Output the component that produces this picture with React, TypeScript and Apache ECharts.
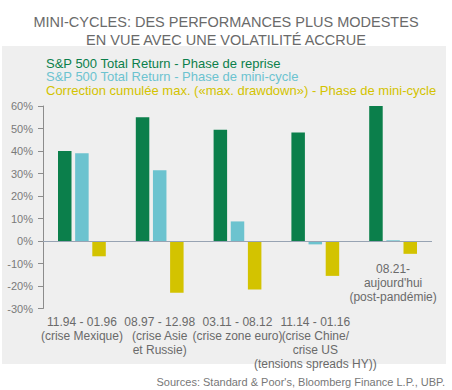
import React, { useEffect, useRef } from "react";
import * as echarts from "echarts";

const categories = [
  "11.94 - 01.96\n(crise Mexique)",
  "08.97 - 12.98\n(crise Asie\net Russie)",
  "03.11 - 08.12\n(crise zone euro)",
  "11.14 - 01.16\n(crise Chine/\ncrise US\n(tensions spreads HY))",
  "08.21-\naujourd'hui\n(post-pandémie)",
];
const seriesNames = [
  "S&P 500 Total Return - Phase de reprise",
  "S&P 500 Total Return - Phase de mini-cycle",
  "Correction cumulée max. (\u00abmax. drawdown\u00bb) - Phase de mini-cycle",
];
const reprise = [40, 55, 49.5, 48.2, 60];
const miniCycle = [39, 31.5, 8.7, -1.5, 0.3];
const drawdown = [-6.8, -23, -21.6, -15.5, -5.7];
const yTicks = [-30, -20, -10, 0, 10, 20, 30, 40, 50, 60];
const colors = ["#0b7f4b", "#6cc3cf", "#d3c300"];
const titleLines = [
  "MINI-CYCLES: DES PERFORMANCES PLUS MODESTES",
  "EN VUE AVEC UNE VOLATILITÉ ACCRUE",
];
const sourceText = "Sources: Standard & Poor's, Bloomberg Finance L.P., UBP.";

const FONT = "'Liberation Sans', Arial, Helvetica, sans-serif";

export default function App() {
  const ref = useRef<HTMLDivElement>(null);
  useEffect(() => {
    if (!ref.current) return;
    const chart = echarts.init(ref.current, undefined, { renderer: "svg" });
    const lastIdx = categories.length - 1;
    chart.setOption({
      animation: false,
      backgroundColor: "#ffffff",
      title: {
        text: titleLines.join("\n"),
        left: "center",
        top: 8,
        textStyle: {
          fontFamily: FONT,
          fontSize: 14.5,
          fontWeight: "normal",
          color: "#6a6a6a",
          lineHeight: 18,
        },
      },
      graphic: [
        {
          type: "rect",
          z: -10,
          shape: { x: 2, y: 46, width: 444, height: 318 },
          style: { fill: "#efefef" },
          silent: true,
        },
        {
          type: "text",
          right: 7,
          top: 376,
          style: {
            text: sourceText,
            fontFamily: FONT,
            fontSize: 11,
            fill: "#777777",
          },
        },
      ],
      legend: {
        orient: "vertical",
        left: 46,
        top: 56,
        itemGap: 0,
        itemWidth: 0,
        itemHeight: 14,
        icon: "none",
        selectedMode: false,
        padding: 0,
        data: seriesNames.map((n, i) => ({
          name: n,
          textStyle: { color: colors[i], fontSize: 13, fontFamily: FONT, padding: [0, 0, 0, -5] },
        })),
      },
      grid: {
        left: 43,
        right: 20,
        top: 106,
        bottom: 81.5,
        containLabel: false,
        outerBoundsMode: "none",
      },
      xAxis: {
        type: "category",
        data: categories.map((c, i) => (i === lastIdx ? "" : c)),
        axisLine: { show: false, onZero: false },
        axisTick: { show: false },
        axisLabel: {
          interval: 0,
          fontFamily: FONT,
          fontSize: 12,
          color: "#6a6a6a",
          lineHeight: 14,
          margin: 6,
          verticalAlign: "top",
        },
      },
      yAxis: {
        type: "value",
        min: -30,
        max: 60,
        interval: 10,
        splitLine: { show: false },
        axisLine: { show: true, lineStyle: { color: "#8c8c8c", width: 1 } },
        axisTick: { show: true, inside: false, length: 5, lineStyle: { color: "#8c8c8c" } },
        axisLabel: {
          fontFamily: FONT,
          fontSize: 11,
          color: "#7a7a7a",
          margin: 10,
          formatter: (v: number) => (yTicks.includes(v) ? `${v}%` : ""),
        },
      },
      series: [
        {
          name: seriesNames[0],
          type: "bar",
          data: reprise,
          barWidth: 13.5,
          barGap: "27%",
          itemStyle: { color: colors[0] },
          markLine: {
            silent: true,
            symbol: "none",
            label: { show: false },
            lineStyle: { color: "#97a3b3", type: "solid", width: 1.2 },
            data: [{ yAxis: 0 }],
            z: 10,
          },
        },
        {
          name: seriesNames[1],
          type: "bar",
          data: miniCycle.map((v, i) =>
            i === lastIdx
              ? {
                  value: v,
                  label: {
                    show: true,
                    position: "bottom",
                    distance: 21,
                    formatter: () => categories[lastIdx],
                    fontFamily: FONT,
                    fontSize: 12,
                    lineHeight: 14,
                    color: "#6a6a6a",
                    align: "center",
                  },
                }
              : v
          ),
          barWidth: 13.5,
          itemStyle: { color: colors[1] },
        },
        {
          name: seriesNames[2],
          type: "bar",
          data: drawdown,
          barWidth: 13.5,
          itemStyle: { color: colors[2] },
        },
      ],
    });
    return () => chart.dispose();
  }, []);
  return (
    <div
      ref={ref}
      style={{ position: "absolute", left: 0, top: 0, width: 452, height: 390 }}
    />
  );
}
